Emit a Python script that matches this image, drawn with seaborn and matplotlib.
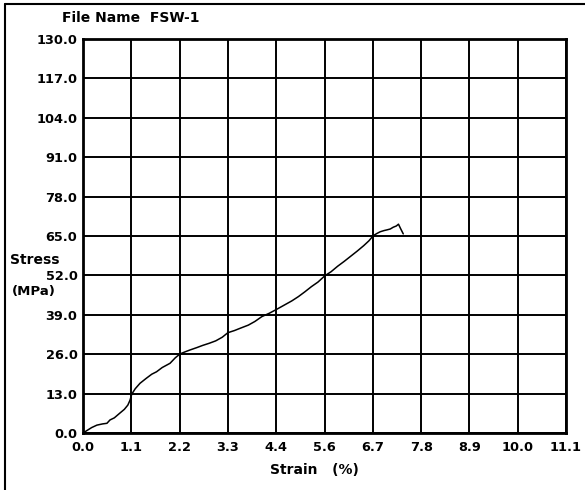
import matplotlib
matplotlib.use("Agg")
import matplotlib.pyplot as plt
import seaborn as sns
import pandas as pd
import numpy as np

strain = [0.00, 0.10, 0.20, 0.32, 0.45, 0.55, 0.62, 0.72, 0.85, 0.95, 1.03, 1.08, 1.12,
          1.20, 1.31, 1.45, 1.58, 1.69, 1.82, 2.00, 2.12, 2.23, 2.35, 2.46, 2.62, 2.75,
          2.90, 3.05, 3.20, 3.33, 3.48, 3.62, 3.80, 3.95, 4.11, 4.28, 4.45, 4.60, 4.80,
          4.95, 5.10, 5.25, 5.40, 5.56, 5.70, 5.85, 6.00, 6.15, 6.30, 6.45, 6.57, 6.67,
          6.75, 6.83, 6.92, 6.98, 7.06, 7.13, 7.20, 7.25, 7.30, 7.36]
stress = [0.0, 0.9, 1.8, 2.6, 3.0, 3.2, 4.3, 5.0, 6.6, 7.8, 9.2, 10.8, 12.8,
          14.6, 16.4, 18.0, 19.4, 20.2, 21.6, 23.0, 24.8, 26.1, 26.8, 27.4, 28.2, 28.9,
          29.6, 30.4, 31.6, 33.1, 33.8, 34.6, 35.6, 36.8, 38.4, 39.5, 40.8, 42.0, 43.6,
          45.0, 46.6, 48.3, 49.8, 51.9, 53.2, 55.0, 56.6, 58.3, 60.0, 61.8, 63.4, 65.1,
          65.8, 66.4, 66.8, 67.0, 67.3, 67.9, 68.3, 68.9, 67.4, 65.7]

x_ticks = [0.0, 1.11, 2.22, 3.33, 4.44, 5.55, 6.66, 7.77, 8.88, 9.99, 11.1]
x_labels = ["0.0", "1.1", "2.2", "3.3", "4.4", "5.6", "6.7", "7.8", "8.9", "10.0", "11.1"]
y_ticks = [0, 13, 26, 39, 52, 65, 78, 91, 104, 117, 130]
y_labels = ["0.0", "13.0", "26.0", "39.0", "52.0", "65.0", "78.0", "91.0", "104.0", "117.0", "130.0"]

df = pd.DataFrame({"strain": strain, "stress": stress})

sns.set_style("white")
plt.rcParams['font.family'] = ['DejaVu Sans']
plt.rcParams['text.color'] = 'black'
plt.rcParams['xtick.color'] = 'black'
plt.rcParams['ytick.color'] = 'black'

fig = plt.figure(figsize=(5.85, 4.9), dpi=100)
ax = fig.add_axes([83/585, 1 - 433/490, (566-83)/585, (433-39)/490])

sns.lineplot(data=df, x="strain", y="stress", ax=ax, color="black", linewidth=1.1, sort=False)

ax.set_xlim(0, 11.1)
ax.set_ylim(0, 130)
ax.set_xticks(x_ticks)
ax.set_xticklabels(x_labels, fontsize=9.3, fontweight="bold", color="black")
ax.set_yticks(y_ticks)
ax.set_yticklabels(y_labels, fontsize=9.3, fontweight="bold", color="black")
ax.tick_params(axis="x", length=0, pad=6)
ax.tick_params(axis="y", length=0, pad=4)
ax.grid(True, color="black", linewidth=1.4)
ax.set_axisbelow(True)
for s in ax.spines.values():
    s.set_color("black")
    s.set_linewidth(2)
ax.set_xlabel("")
ax.set_ylabel("")

fig.text(62/585, 1 - 18/490, "File Name  FSW-1", fontsize=10, fontweight="bold", va="center", ha="left", color="black")
fig.text(314/585, 1 - 470/490, "Strain   (%)", fontsize=10, fontweight="bold", va="center", ha="center", color="black")
fig.text(10/585, 1 - 260/490, "Stress", fontsize=10, fontweight="bold", va="center", ha="left", color="black")
fig.text(12/585, 1 - 291/490, "(MPa)", fontsize=9.5, fontweight="bold", va="center", ha="left", color="black")

# page frame (left and top edges)
fig.add_artist(plt.Line2D([5/585, 5/585], [0, 1 - 4/490], transform=fig.transFigure, color="black", linewidth=1.5))
fig.add_artist(plt.Line2D([5/585, 1], [1 - 4/490, 1 - 4/490], transform=fig.transFigure, color="black", linewidth=1.5))

fig.savefig("out.png", dpi=100)
